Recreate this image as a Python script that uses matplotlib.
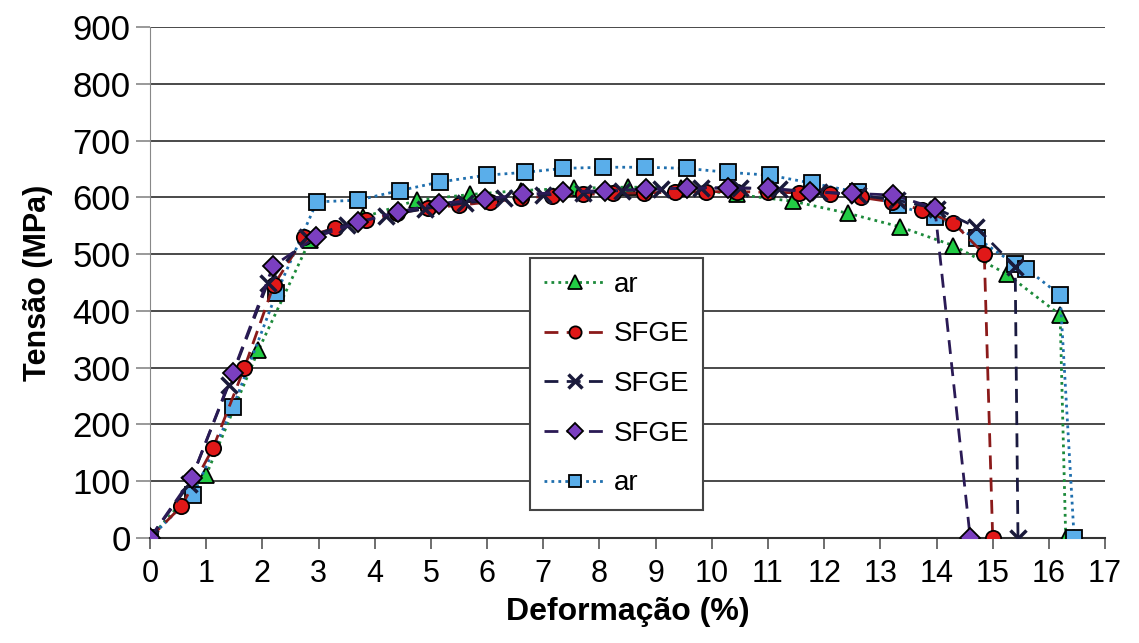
import matplotlib
matplotlib.use("Agg")
import matplotlib.pyplot as plt

# ar (green triangles)
ar1_x = [0, 1.0, 1.93, 2.85, 3.8, 4.75, 5.7, 6.6, 7.55, 8.5, 9.45, 10.45, 11.45, 12.42, 13.35, 14.3, 15.25, 16.2, 16.3]
ar1_y = [0, 111, 331, 525, 565, 595, 605, 612, 616, 618, 617, 605, 593, 572, 548, 515, 465, 393, 0]

# SFGE (red circles)
sf1_x = [0, 0.56, 1.12, 1.68, 2.2, 2.75, 3.3, 3.85, 4.4, 4.95, 5.5, 6.05, 6.6, 7.15, 7.7, 8.25, 8.8,
         9.35, 9.9, 10.45, 11.0, 11.55, 12.1, 12.65, 13.2, 13.75, 14.3, 14.85, 15.0]
sf1_y = [0, 56, 158, 300, 445, 530, 546, 560, 572, 581, 586, 592, 598, 603, 605, 607, 608,
         609, 610, 610, 609, 608, 606, 600, 592, 578, 555, 500, 0]

# SFGE (x markers)
sf2_x = [0, 0.7, 1.4, 2.1, 2.8, 3.5, 4.2, 4.9, 5.6, 6.3, 7.0, 7.7, 8.4, 9.1, 9.8, 10.5,
         11.2, 11.9, 12.6, 13.3, 14.0, 14.7, 15.4, 15.45]
sf2_y = [0, 95, 270, 450, 530, 552, 568, 580, 590, 598, 604, 608, 612, 615, 617, 617,
         614, 610, 604, 595, 580, 548, 478, 0]

# SFGE (purple diamonds)
sf3_x = [0, 0.74, 1.47, 2.19, 2.95, 3.7, 4.41, 5.14, 5.96, 6.64, 7.35, 8.1, 8.83, 9.55,
         10.29, 11.0, 11.75, 12.5, 13.23, 13.97, 14.6]
sf3_y = [0, 105, 290, 479, 530, 556, 574, 589, 597, 605, 609, 612, 614, 616,
         616, 616, 609, 607, 604, 581, 0]

# ar (blue squares)
ar2_x = [0, 0.77, 1.48, 2.25, 2.97, 3.7, 4.45, 5.16, 5.99, 6.67, 7.36, 8.07, 8.81, 9.55,
         10.29, 11.03, 11.78, 12.6, 13.31, 13.97, 14.72, 15.4, 15.6, 16.2, 16.45]
ar2_y = [0, 76, 231, 431, 592, 595, 612, 627, 639, 644, 651, 653, 653, 651,
         644, 639, 625, 609, 586, 565, 528, 482, 474, 428, 0]

labels = ["ar", "SFGE", "SFGE", "SFGE", "ar"]

fig = plt.figure(figsize=(11.39, 6.43), dpi=100)
ax = fig.add_axes([0.1317, 0.1633, 0.8385, 0.7947])

dash = (0, (5, 3))
dot = (0, (1, 1.5))
ax.plot(ar1_x, ar1_y, linestyle=dot, color="#1c8a3a", lw=2, marker="^", ms=12,
        mfc="#22cc44", mec="black", mew=1.3, label=labels[0], zorder=3)
ax.plot(sf1_x, sf1_y, linestyle=dash, color="#8b1a1a", lw=2, marker="o", ms=11,
        mfc="#e01818", mec="black", mew=1.3, label=labels[1], zorder=4)
ax.plot(sf2_x, sf2_y, linestyle=dash, color="#1a1a40", lw=2, marker="x", ms=12,
        mec="#1a1a3a", mew=2.5, label=labels[2], zorder=4)
ax.plot(sf3_x, sf3_y, linestyle=dash, color="#2a1a55", lw=2, marker="D", ms=10,
        mfc="#7b3fc0", mec="black", mew=1.3, label=labels[3], zorder=5)
ax.plot(ar2_x, ar2_y, linestyle=dot, color="#1f6fae", lw=2, marker="s", ms=11,
        mfc="#5aaeea", mec="black", mew=1.3, label=labels[4], zorder=3)

ax.set_xlim(0, 17)
ax.set_ylim(0, 900)
ax.set_xticks(range(0, 18))
ax.set_yticks(range(0, 901, 100))
ax.yaxis.grid(True, color="#3a3a3a", lw=1.3)
ax.set_axisbelow(True)

for s in ["top", "right"]:
    ax.spines[s].set_visible(False)
ax.spines["left"].set_color("#888888")
ax.spines["bottom"].set_color("#333333")
ax.spines["bottom"].set_linewidth(1.5)
ax.tick_params(axis="x", direction="out", length=8, width=1.2, color="#555555", pad=7)
ax.tick_params(axis="y", direction="out", length=10, width=1.2, color="#888888", pad=4)

for t in ax.get_yticklabels():
    t.set_fontfamily(["Liberation Sans", "DejaVu Sans"])
    t.set_fontsize(25)
for t in ax.get_xticklabels():
    t.set_fontfamily(["Liberation Sans", "DejaVu Sans"])
    t.set_fontsize(22)

ax.set_ylabel("Tensão (MPa)", fontsize=22, fontweight="bold",
              family=["Liberation Sans", "DejaVu Sans"], labelpad=14)
ax.set_xlabel("Deformação (%)", fontsize=23, fontweight="bold",
              family=["Liberation Sans", "DejaVu Sans"], labelpad=6)

leg = ax.legend(loc="upper left", bbox_to_anchor=(0.398, 0.548), borderaxespad=0,
                fancybox=False, framealpha=1, edgecolor="#444444",
                prop={"family": "Liberation Sans", "size": 20}, markerscale=0.8,
                handlelength=2.2, handletextpad=0.3, labelspacing=0.85, borderpad=0.5)
leg.get_frame().set_linewidth(1.5)

fig.savefig("out.png", dpi=100)
